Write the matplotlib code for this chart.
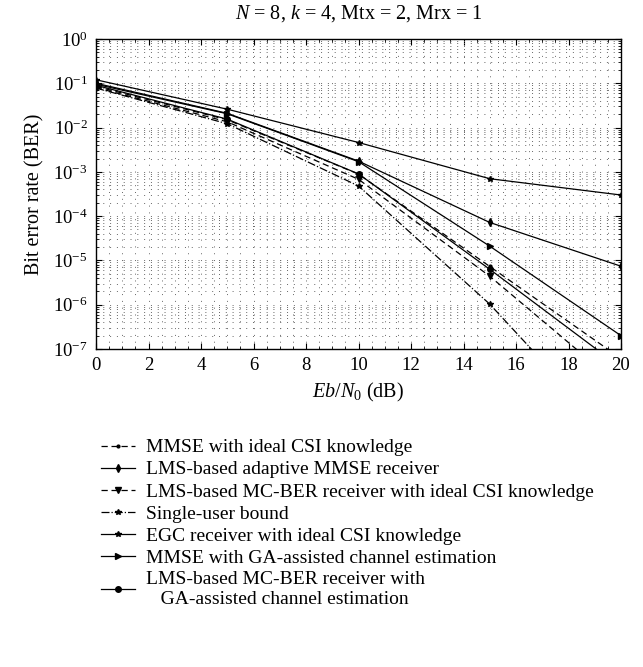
import matplotlib
matplotlib.use('Agg')
import matplotlib.pyplot as plt
from matplotlib.ticker import MultipleLocator, LogLocator

plt.rcParams['font.family'] = ['Liberation Serif', 'DejaVu Serif']
plt.rcParams['mathtext.fontset'] = 'custom'
plt.rcParams['mathtext.rm'] = 'Liberation Serif'
plt.rcParams['mathtext.it'] = 'Liberation Serif:italic'

# Eb/N0 points (dB)
snr = [0, 5, 10, 15, 20]

# BER curves
mmse_ideal = [0.085, 0.015, 8.9e-4, 7.3e-6, 6.1e-8]
lms_mmse = [0.10, 0.021, 1.75e-3, 7.2e-5, 7.4e-6]
lms_mcber_ideal = [0.08, 0.0135, 6.8e-4, 4.4e-6, 1.4e-8]
single_user = [0.078, 0.0122, 4.8e-4, 1.03e-6, 6.5e-10]
egc = [0.12, 0.026, 4.6e-3, 7.0e-4, 3.0e-4]
mmse_ga = [0.095, 0.0205, 1.7e-3, 2.1e-5, 2.0e-7]
lms_mcber_ga = [0.09, 0.0155, 9.0e-4, 6.3e-6, 3.8e-8]

labels = ['MMSE with ideal CSI knowledge',
          'LMS-based adaptive MMSE receiver',
          'LMS-based MC-BER receiver with ideal CSI knowledge',
          'Single-user bound',
          'EGC receiver with ideal CSI knowledge',
          'MMSE with GA-assisted channel estimation',
          'LMS-based MC-BER receiver with\n   GA-assisted channel estimation']

fig = plt.figure(figsize=(6.43, 6.67), dpi=100)
ax = fig.add_axes([96 / 643, 1 - 349 / 667, 525 / 643, 310 / 667])

kw = dict(color='black', linewidth=0.9, markersize=4)
ax.semilogy(snr, mmse_ideal, '--', marker='.', dashes=(5, 3), label=labels[0], **kw)
ax.semilogy(snr, lms_mmse, '-', marker='d', label=labels[1], **kw)
ax.semilogy(snr, lms_mcber_ideal, '--', marker='v', dashes=(5, 3), label=labels[2], **kw)
ax.semilogy(snr, single_user, '-.', marker='*', label=labels[3], **kw)
ax.semilogy(snr, egc, '-', marker='*', label=labels[4], **kw)
ax.semilogy(snr, mmse_ga, '-', marker='>', label=labels[5], **kw)
ax.semilogy(snr, lms_mcber_ga, '-', marker='o', label=labels[6], **kw)

ax.set_xlim(0, 20)
ax.set_ylim(1e-7, 1)
ax.xaxis.set_major_locator(MultipleLocator(2))
ax.xaxis.set_minor_locator(MultipleLocator(0.5))
ax.yaxis.set_major_locator(LogLocator(base=10, numticks=10))
ax.yaxis.set_minor_locator(LogLocator(base=10, subs=range(2, 10), numticks=10))
ax.grid(True, which='both', linestyle=(0, (1, 6)), linewidth=0.7, color='#666666')
ax.tick_params(which='both', direction='in', top=True, right=True, labelsize=13.5)
ax.tick_params(which='major', length=4, pad=6)
ax.tick_params(which='minor', length=2)
for s in ax.spines.values():
    s.set_linewidth(1.0)

ax.set_title('$N$ = 8, $k$ = 4, Mtx = 2, Mrx = 1', fontsize=14.5, pad=15)
ax.set_xlabel('$Eb/N_0$ (dB)', fontsize=14.5, labelpad=5)
ax.set_ylabel('Bit error rate (BER)', fontsize=14.5, labelpad=6)

fig.legend(loc='upper left', bbox_to_anchor=(93 / 643, 1 - 431 / 667),
           frameon=False, fontsize=14, handlelength=1.75, handletextpad=0.55,
           labelspacing=0.23, borderaxespad=0)

fig.savefig('out.png', dpi=100)
